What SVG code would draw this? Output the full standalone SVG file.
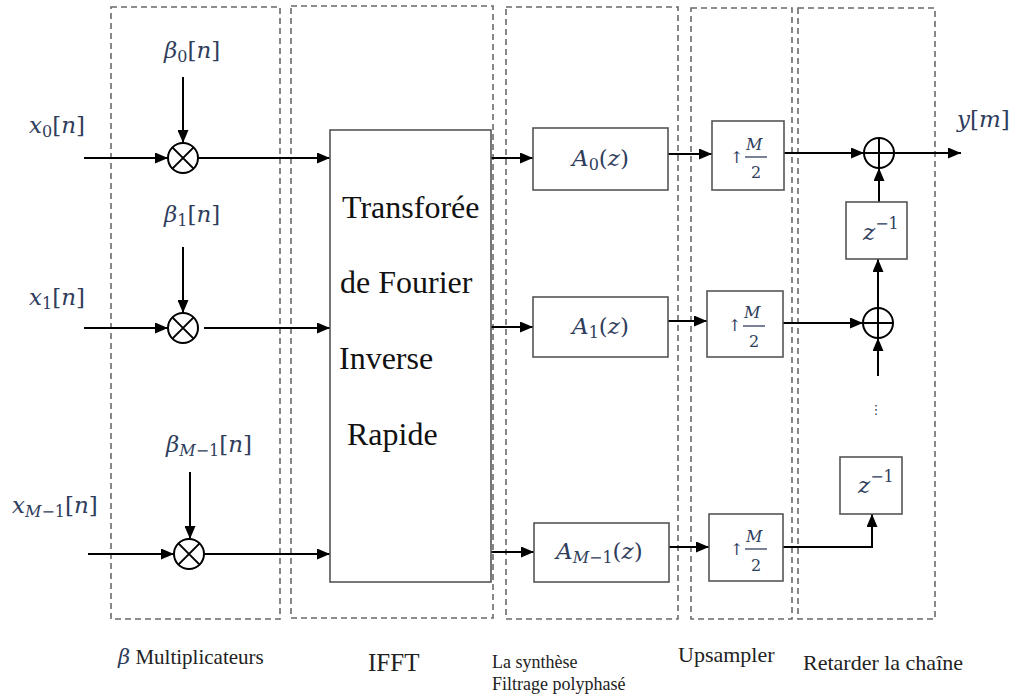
<svg xmlns="http://www.w3.org/2000/svg" width="1013" height="696" viewBox="0 0 1013 696">
<defs>
<marker id="ah" markerUnits="userSpaceOnUse" markerWidth="13" markerHeight="11" refX="13" refY="5.5" orient="auto">
<path d="M0,0 L13,5.5 L0,11 z" fill="#000"/>
</marker>
<style>
.dash{fill:none;stroke:#6a6a6a;stroke-width:1.6;stroke-dasharray:6 4}
.box{fill:#fff;stroke:#555;stroke-width:1.6}
.con{fill:none;stroke:#000;stroke-width:2}
.arr{fill:none;stroke:#000;stroke-width:2;marker-end:url(#ah)}
.op{fill:#fff;stroke:#000;stroke-width:2}
.m{font-family:"DejaVu Serif","Liberation Serif",serif;font-size:23px;fill:#2f3d5c}
.i{font-style:italic}
.s{font-size:16px}
.f{font-family:"DejaVu Serif","Liberation Serif",serif;font-size:16px;fill:#2f3d5c}
.big{font-family:"Liberation Serif",serif;font-size:32px;fill:#111}
.lab{font-family:"Liberation Serif",serif;fill:#222}
</style>
</defs>
<rect width="1013" height="696" fill="#fff"/>

<g id="groups">
<rect id="g-mult" class="dash" x="111" y="7" width="169" height="612"/>
<rect id="g-ifft" class="dash" x="291" y="6" width="202" height="612"/>
<rect id="g-synth" class="dash" x="506" y="7" width="172" height="612"/>
<rect id="g-up" class="dash" x="691" y="8" width="101" height="611"/>
<rect id="g-delay" class="dash" x="798" y="8" width="137" height="611"/>
</g>

<g id="connectors">
<path class="arr" d="M84,158 H168"/>
<path class="arr" d="M183,77 V143"/>
<path class="arr" d="M198,158 H330"/>
<path class="arr" d="M84,328 H168"/>
<path class="arr" d="M183,247 V313"/>
<path class="arr" d="M204,328 H330"/>
<path class="arr" d="M88,554 H174"/>
<path class="arr" d="M190,472 V539"/>
<path class="arr" d="M204,554 H330"/>
<path class="arr" d="M491,158 H533"/>
<path class="arr" d="M491,327 H533"/>
<path class="arr" d="M491,552 H534"/>
<path class="arr" d="M668,154 H712"/>
<path class="arr" d="M668,321 H707"/>
<path class="arr" d="M669,547 H709"/>
<path class="arr" d="M784,153 H864"/>
<path class="arr" d="M783,323 H863"/>
<path class="arr" d="M783,547 H872 V514"/>
<path class="arr" d="M879,202 V168"/>
<path class="arr" d="M878,308 V259"/>
<path class="arr" d="M878,376 V338"/>
<path class="arr" d="M894,153 H961"/>
</g>

<g id="labels-in">
<text class="m" x="29" y="133"><tspan class="i">x</tspan><tspan class="s" dy="4">0</tspan><tspan dy="-4">[</tspan><tspan class="i">n</tspan>]</text>
<text class="m" x="164" y="58"><tspan class="i">β</tspan><tspan class="s" dy="4">0</tspan><tspan dy="-4">[</tspan><tspan class="i">n</tspan>]</text>
<text class="m" x="29" y="305"><tspan class="i">x</tspan><tspan class="s" dy="4">1</tspan><tspan dy="-4">[</tspan><tspan class="i">n</tspan>]</text>
<text class="m" x="164" y="222"><tspan class="i">β</tspan><tspan class="s" dy="4">1</tspan><tspan dy="-4">[</tspan><tspan class="i">n</tspan>]</text>
<text class="m" x="12" y="513"><tspan class="i">x</tspan><tspan class="s" dy="4"><tspan class="i">M</tspan>−1</tspan><tspan dy="-4">[</tspan><tspan class="i">n</tspan>]</text>
<text class="m" x="166" y="452"><tspan class="i">β</tspan><tspan class="s" dy="4"><tspan class="i">M</tspan>−1</tspan><tspan dy="-4">[</tspan><tspan class="i">n</tspan>]</text>
<text class="m" x="957" y="127"><tspan class="i">y</tspan>[<tspan class="i">m</tspan>]</text>
</g>

<g id="mult0"><circle class="op" cx="183" cy="158" r="15"/><path class="con" d="M172.4,147.4 L193.6,168.6 M193.6,147.4 L172.4,168.6"/></g>
<g id="mult1"><circle class="op" cx="183" cy="328" r="15"/><path class="con" d="M172.4,317.4 L193.6,338.6 M193.6,317.4 L172.4,338.6"/></g>
<g id="multM"><circle class="op" cx="189" cy="554" r="15"/><path class="con" d="M178.4,543.4 L199.6,564.6 M199.6,543.4 L178.4,564.6"/></g>

<g id="ifft">
<rect class="box" x="330" y="130" width="161" height="452"/>
<text class="big" x="342" y="218">Transforée</text>
<text class="big" x="340" y="293">de Fourier</text>
<text class="big" x="339" y="369">Inverse</text>
<text class="big" x="347" y="445">Rapide</text>
</g>

<g id="a0"><rect class="box" x="533" y="128" width="135" height="62"/>
<text class="m" x="572" y="166"><tspan class="i">A</tspan><tspan class="s" dy="4">0</tspan><tspan dy="-4">(</tspan><tspan class="i">z</tspan>)</text></g>
<g id="a1"><rect class="box" x="533" y="297" width="135" height="60"/>
<text class="m" x="572" y="334"><tspan class="i">A</tspan><tspan class="s" dy="4">1</tspan><tspan dy="-4">(</tspan><tspan class="i">z</tspan>)</text></g>
<g id="aM"><rect class="box" x="534" y="523" width="135" height="59"/>
<text class="m" x="556" y="559"><tspan class="i">A</tspan><tspan class="s" dy="4"><tspan class="i">M</tspan>−1</tspan><tspan dy="-4">(</tspan><tspan class="i">z</tspan>)</text></g>

<g id="up0"><rect class="box" x="712" y="121" width="72" height="69"/>
<text class="f" x="730" y="163">↑</text><text class="f i" x="746" y="150">M</text><line x1="745" y1="157" x2="767" y2="157" stroke="#2f3d5c" stroke-width="1.3"/><text class="f" x="751" y="178">2</text></g>
<g id="up1"><rect class="box" x="707" y="291" width="76" height="66"/>
<text class="f" x="728" y="331">↑</text><text class="f i" x="744" y="318">M</text><line x1="743" y1="326" x2="765" y2="326" stroke="#2f3d5c" stroke-width="1.3"/><text class="f" x="749" y="347">2</text></g>
<g id="upM"><rect class="box" x="709" y="514" width="74" height="67"/>
<text class="f" x="730" y="555">↑</text><text class="f i" x="746" y="542">M</text><line x1="745" y1="549" x2="767" y2="549" stroke="#2f3d5c" stroke-width="1.3"/><text class="f" x="751" y="571">2</text></g>

<g id="add0"><circle class="op" cx="879" cy="153" r="15"/><path class="con" d="M864,153 H894 M879,138 V168"/></g>
<g id="add1"><circle class="op" cx="878" cy="323" r="15"/><path class="con" d="M863,323 H893 M878,308 V338"/></g>

<g id="zd0"><rect class="box" x="846" y="202" width="61" height="57"/>
<text class="m" x="863" y="240"><tspan class="i">z</tspan><tspan class="s" dy="-11">−1</tspan></text></g>
<g id="zdM"><rect class="box" x="840" y="457" width="62" height="57"/>
<text class="m" x="858" y="493"><tspan class="i">z</tspan><tspan class="s" dy="-11">−1</tspan></text></g>

<g id="dots"><text x="876" y="414" text-anchor="middle" style="font-family:'DejaVu Sans',sans-serif;font-size:13px;fill:#2f3d5c">⋮</text></g>

<g id="captions">
<text class="lab" x="118" y="664" font-size="21"><tspan class="i" style="font-family:'DejaVu Serif',serif;fill:#2f3d5c">β</tspan> Multiplicateurs</text>
<text class="lab" x="368" y="671" font-size="25">IFFT</text>
<text class="lab" x="492" y="668" font-size="18">La synthèse</text>
<text class="lab" x="492" y="690" font-size="18">Filtrage polyphasé</text>
<text class="lab" x="678" y="662" font-size="22">Upsampler</text>
<text class="lab" x="803" y="670" font-size="22">Retarder la chaîne</text>
</g>
</svg>
